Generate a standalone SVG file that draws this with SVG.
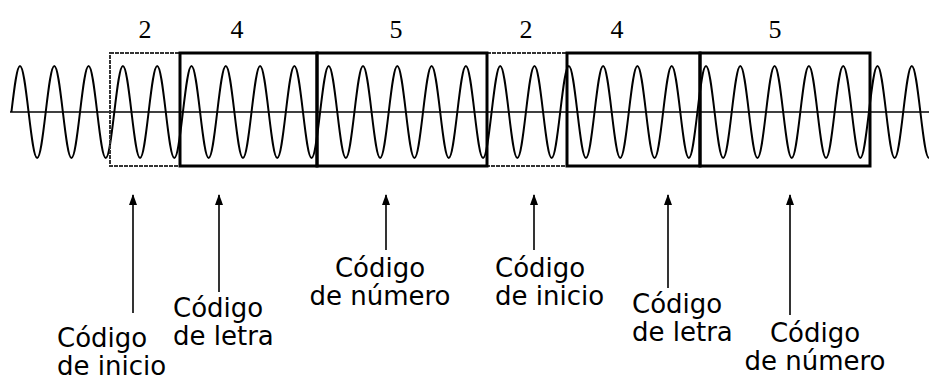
<svg xmlns="http://www.w3.org/2000/svg" width="929" height="380" viewBox="0 0 929 380">
<style>
.thin{fill:none;stroke:#333;stroke-width:2;stroke-dasharray:4 1}
.thick{fill:none;stroke:#000;stroke-width:3}
.digit{font-family:"Liberation Serif",serif;font-size:26px;fill:#000;text-anchor:middle}
.lbl{font-family:"DejaVu Sans",sans-serif;font-size:26px;fill:#000}
.wave{fill:none;stroke:#000;stroke-width:2}
.axis{stroke:#000;stroke-width:1.6}
.conn{stroke:#000;stroke-width:1.6;fill:none}
</style>
<defs>
<marker id="ah" markerUnits="userSpaceOnUse" markerWidth="12" markerHeight="10" refX="10" refY="4" orient="auto">
<path d="M0,0 L11,4 L0,8 z" fill="#000"/>
</marker>
</defs>
<rect width="929" height="380" fill="#fff"/>
<line class="axis" x1="10" y1="112" x2="929" y2="112"/>
<path class="wave" d="M11.425,112 c2.866,-24.15 5.484,-46 8.575,-46
s5.709,21.85 8.575,46 s5.484,46 8.575,46 s5.709,-21.85 8.575,-46 s5.484,-46 8.575,-46
s5.709,21.85 8.575,46 s5.484,46 8.575,46 s5.709,-21.85 8.575,-46 s5.484,-46 8.575,-46
s5.709,21.85 8.575,46 s5.484,46 8.575,46 s5.709,-21.85 8.575,-46 s5.484,-46 8.575,-46
s5.709,21.85 8.575,46 s5.484,46 8.575,46 s5.709,-21.85 8.575,-46 s5.484,-46 8.575,-46
s5.709,21.85 8.575,46 s5.484,46 8.575,46 s5.709,-21.85 8.575,-46 s5.484,-46 8.575,-46
s5.709,21.85 8.575,46 s5.484,46 8.575,46 s5.709,-21.85 8.575,-46 s5.484,-46 8.575,-46
s5.709,21.85 8.575,46 s5.484,46 8.575,46 s5.709,-21.85 8.575,-46 s5.484,-46 8.575,-46
s5.709,21.85 8.575,46 s5.484,46 8.575,46 s5.709,-21.85 8.575,-46 s5.484,-46 8.575,-46
s5.709,21.85 8.575,46 s5.484,46 8.575,46 s5.709,-21.85 8.575,-46 s5.484,-46 8.575,-46
s5.709,21.85 8.575,46 s5.484,46 8.575,46 s5.709,-21.85 8.575,-46 s5.484,-46 8.575,-46
s5.709,21.85 8.575,46 s5.484,46 8.575,46 s5.709,-21.85 8.575,-46 s5.484,-46 8.575,-46
s5.709,21.85 8.575,46 s5.484,46 8.575,46 s5.709,-21.85 8.575,-46 s5.484,-46 8.575,-46
s5.709,21.85 8.575,46 s5.484,46 8.575,46 s5.709,-21.85 8.575,-46 s5.484,-46 8.575,-46
s5.709,21.85 8.575,46 s5.484,46 8.575,46 s5.709,-21.85 8.575,-46 s5.484,-46 8.575,-46
s5.709,21.85 8.575,46 s5.484,46 8.575,46 s5.709,-21.85 8.575,-46 s5.484,-46 8.575,-46
s5.709,21.85 8.575,46 s5.484,46 8.575,46 s5.709,-21.85 8.575,-46 s5.484,-46 8.575,-46
s5.709,21.85 8.575,46 s5.484,46 8.575,46 s5.709,-21.85 8.575,-46 s5.484,-46 8.575,-46
s5.709,21.85 8.575,46 s5.484,46 8.575,46 s5.709,-21.85 8.575,-46 s5.484,-46 8.575,-46
s5.709,21.85 8.575,46 s5.484,46 8.575,46 s5.709,-21.85 8.575,-46 s5.484,-46 8.575,-46
s5.709,21.85 8.575,46 s5.484,46 8.575,46 s5.709,-21.85 8.575,-46 s5.484,-46 8.575,-46
s5.709,21.85 8.575,46 s5.484,46 8.575,46 s5.709,-21.85 8.575,-46 s5.484,-46 8.575,-46
s5.709,21.85 8.575,46 s5.484,46 8.575,46 s5.709,-21.85 8.575,-46 s5.484,-46 8.575,-46
s5.709,21.85 8.575,46 s5.484,46 8.575,46 s5.709,-21.85 8.575,-46 s5.484,-46 8.575,-46
s5.709,21.85 8.575,46 s5.484,46 8.575,46 s5.709,-21.85 8.575,-46 s5.484,-46 8.575,-46
s5.709,21.85 8.575,46 s5.484,46 8.575,46 s5.709,-21.85 8.575,-46 s5.484,-46 8.575,-46
s5.709,21.85 8.575,46 s5.484,46 8.575,46 s5.709,-21.85 8.575,-46 s5.484,-46 8.575,-46
s5.709,21.85 8.575,46 s5.484,46 8.575,46"/>
<g id="seg-inicio-1"><rect class="thin" x="110" y="53" width="70" height="113"/><text class="digit" x="145" y="38">2</text></g>
<g id="seg-inicio-2"><rect class="thin" x="487" y="53" width="80" height="113"/><text class="digit" x="526" y="38">2</text></g>
<g id="seg-letra-1"><rect class="thick" x="180" y="53" width="137" height="113"/><text class="digit" x="237" y="38">4</text></g>
<g id="seg-numero-1"><rect class="thick" x="317" y="53" width="170" height="113"/><text class="digit" x="396" y="38">5</text></g>
<g id="seg-letra-2"><rect class="thick" x="567" y="53" width="133" height="113"/><text class="digit" x="617" y="38">4</text></g>
<g id="seg-numero-2"><rect class="thick" x="700" y="53" width="170" height="113"/><text class="digit" x="775" y="38">5</text></g>
<g id="connectors">
<line class="conn" x1="133" y1="313" x2="133" y2="195" marker-end="url(#ah)"/>
<line class="conn" x1="219" y1="292" x2="219" y2="195" marker-end="url(#ah)"/>
<line class="conn" x1="386" y1="250" x2="386" y2="195" marker-end="url(#ah)"/>
<line class="conn" x1="534" y1="250" x2="534" y2="195" marker-end="url(#ah)"/>
<line class="conn" x1="668" y1="288" x2="668" y2="195" marker-end="url(#ah)"/>
<line class="conn" x1="790" y1="315" x2="790" y2="195" marker-end="url(#ah)"/>
</g>
<g id="label-inicio-1"><text class="lbl" x="57" y="347">Código</text><text class="lbl" x="57" y="375">de inicio</text></g>
<g id="label-letra-1"><text class="lbl" x="173" y="317">Código</text><text class="lbl" x="173" y="345">de letra</text></g>
<g id="label-numero-1"><text class="lbl" x="380" y="277" text-anchor="middle">Código</text><text class="lbl" x="380" y="305" text-anchor="middle">de número</text></g>
<g id="label-inicio-2"><text class="lbl" x="495" y="277">Código</text><text class="lbl" x="495" y="305">de inicio</text></g>
<g id="label-letra-2"><text class="lbl" x="632" y="313">Código</text><text class="lbl" x="632" y="341">de letra</text></g>
<g id="label-numero-2"><text class="lbl" x="815" y="342" text-anchor="middle">Código</text><text class="lbl" x="815" y="370" text-anchor="middle">de número</text></g>
</svg>
